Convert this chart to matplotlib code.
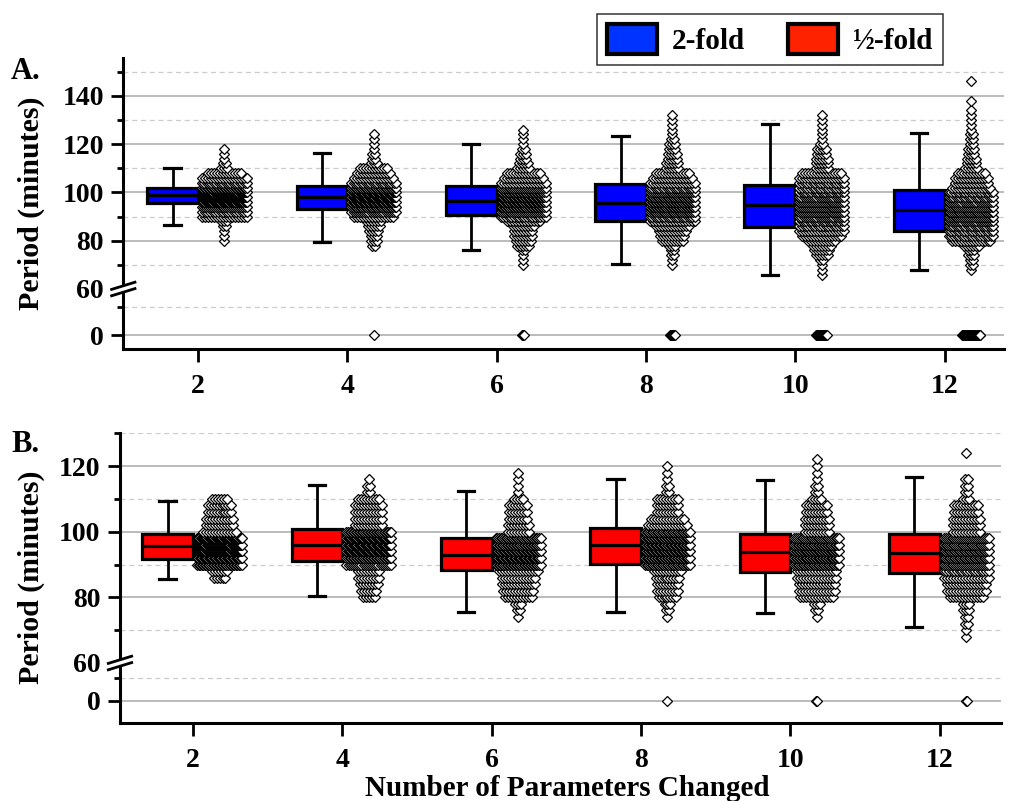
import matplotlib
matplotlib.use("Agg")
import matplotlib.pyplot as plt
import numpy as np
from matplotlib.lines import Line2D
from matplotlib.patches import Patch

plt.rcParams.update(
    {
        "font.family": ["Liberation Serif", "DejaVu Serif"],
        "font.weight": "bold",
        "font.size": 20,
        "axes.linewidth": 2.2,
        "xtick.major.width": 2.0,
        "ytick.major.width": 2.0,
        "ytick.minor.width": 2.0,
    }
)

PARAMS = [2, 4, 6, 8, 10, 12]
BIN = 2  # swarm bins are 2 minutes wide

# box statistics (minutes)
A_WLO = [86.5, 79.4, 76.0, 70.5, 66.0, 67.8]
A_Q1 = [95.6, 93.1, 90.6, 88.3, 85.6, 83.9]
A_MED = [98.9, 98.3, 96.6, 95.6, 94.6, 92.8]
A_Q3 = [101.9, 102.6, 102.8, 103.3, 103.0, 101.1]
A_WHI = [110.2, 116.4, 120.0, 123.3, 128.4, 124.6]

B_WLO = [85.6, 80.4, 75.4, 75.6, 75.2, 71.0]
B_Q1 = [91.7, 91.1, 88.2, 90.3, 87.8, 87.3]
B_MED = [95.6, 96.0, 93.0, 95.8, 93.7, 93.6]
B_Q3 = [99.2, 100.7, 98.1, 101.2, 99.2, 99.3]
B_WHI = [109.4, 114.1, 112.4, 116.1, 115.8, 116.7]

# individual runs: number of points per 2-minute bin, first bin at *_START
A_START = [80, 78, 70, 70, 66, 68]
A_COUNTS = [
    [1, 1, 1, 2, 3, 16, 18, 24, 40, 48, 44, 30, 20, 16, 12, 3, 2, 1, 1, 1],
    [2, 3, 3, 4, 5, 6, 14, 22, 28, 36, 40, 38, 28, 20, 14, 12, 10, 3, 2, 2, 1, 1, 1, 1],
    [1, 1, 1, 2, 5, 6, 7, 7, 8, 12, 18, 24, 30, 34, 34, 30, 24, 16, 14, 12,
     5, 4, 3, 3, 2, 1, 1, 1, 1],
    [1, 1, 2, 2, 3, 8, 9, 10, 12, 16, 20, 26, 30, 30, 28, 24, 20, 16, 14, 12,
     5, 5, 4, 4, 3, 3, 2, 1, 1, 1, 1, 1],
    [1, 1, 1, 2, 5, 6, 7, 10, 14, 16, 18, 20, 22, 24, 24, 24, 22, 20, 18, 18,
     16, 14, 5, 5, 5, 4, 4, 2, 1, 1, 1, 1, 1, 1],
    [1, 2, 2, 3, 3, 6, 14, 18, 18, 20, 22, 24, 26, 24, 22, 20, 18, 14, 12, 12,
     10, 5, 4, 4, 3, 3, 2, 2, 2, 1, 1, 1, 1, 1, 0, 1, 0, 0, 0, 1],
]
A_ZERO = [0, 1, 3, 7, 13, 22]

B_START = [86, 80, 74, 74, 74, 68]
B_COUNTS = [
    [5, 6, 30, 36, 44, 44, 40, 12, 10, 10, 9, 9, 6],
    [5, 6, 7, 8, 8, 22, 30, 38, 38, 38, 30, 10, 10, 10, 10, 8, 2, 2, 1],
    [1, 2, 3, 10, 11, 12, 12, 14, 30, 36, 34, 30, 28, 8, 8, 7, 7, 7, 4, 1, 1, 1, 1],
    [1, 2, 3, 7, 8, 8, 9, 10, 28, 32, 34, 34, 32, 28, 14, 12, 8, 8, 8, 2, 2, 1, 1, 1],
    [1, 2, 3, 12, 13, 13, 14, 14, 28, 32, 32, 30, 26, 9, 9, 9, 8, 8, 4, 2, 2, 1, 1, 1, 1],
    [1, 1, 2, 2, 3, 3, 12, 14, 14, 16, 18, 24, 28, 28, 26, 24, 10, 10, 10, 9, 9,
     3, 2, 2, 2, 0, 0, 0, 1],
]
B_ZERO = [0, 0, 0, 1, 2, 2]

BLUE = "#0000ff"
RED = "#ff0000"
LEG_BLUE = "#0033ff"
LEG_RED = "#ff2200"

FIG_W, FIG_H = 1009, 801
BOX_SHIFT = 0.34
BOX_W = 0.68
SWARM_SHIFT = 0.355
SWARM_STEP = 0.60 / 15
SWARM_CAP = 15
ZERO_STEP = 0.012


def swarm_points(center, start, counts, n_zero):
    xs, ys = [], []
    for i, n in enumerate(counts):
        if n == 0:
            continue
        span = SWARM_STEP * min(n - 1, SWARM_CAP)
        xs.extend(center + np.linspace(-span / 2, span / 2, n))
        ys.extend([start + BIN * i] * n)
    if n_zero:
        span = ZERO_STEP * (n_zero - 1)
        xs.extend(center + np.linspace(-span / 2, span / 2, n_zero))
        ys.extend([0] * n_zero)
    return np.array(xs), np.array(ys)


def px_box(left, top, right, bottom):
    return [left / FIG_W, 1 - bottom / FIG_H, (right - left) / FIG_W, (bottom - top) / FIG_H]


def style_axis(ax, major, minor):
    ax.set_axisbelow(True)
    ax.set_yticks(major)
    ax.set_yticks(minor, minor=True)
    ax.grid(True, which="major", axis="y", color="#a8a8a8", lw=1.1)
    ax.grid(True, which="minor", axis="y", color="#cccccc", lw=0.9, ls=(0, (4, 3)))
    ax.tick_params(axis="y", which="major", length=9, pad=5, direction="out")
    ax.tick_params(axis="y", which="minor", length=4.5, direction="out")
    for side in ("top", "right"):
        ax.spines[side].set_visible(False)


def draw_panel(fig, rect_up, rect_lo, ylim_up, ylim_lo, major_up, minor_up,
               xlim, stats, start, counts, zeros, color, label, label_xy):
    ax_up = fig.add_axes(px_box(*rect_up))
    ax_lo = fig.add_axes(px_box(*rect_lo))
    wlo, q1, med, q3, whi = stats

    for ax in (ax_up, ax_lo):
        bxp_stats = [
            dict(med=m, q1=a, q3=b, whislo=lo, whishi=hi, fliers=[])
            for m, a, b, lo, hi in zip(med, q1, q3, wlo, whi)
        ]
        ax.bxp(
            bxp_stats,
            positions=[p - BOX_SHIFT for p in PARAMS],
            widths=BOX_W,
            capwidths=0.22,
            patch_artist=True,
            showfliers=False,
            boxprops=dict(facecolor=color, edgecolor="black", lw=2.3),
            medianprops=dict(color="black", lw=2.3),
            whiskerprops=dict(color="black", lw=2.0),
            capprops=dict(color="black", lw=2.3),
            zorder=3,
        )
        for p, s, c, z in zip(PARAMS, start, counts, zeros):
            xs, ys = swarm_points(p + SWARM_SHIFT, s, c, z)
            ax.plot(xs, ys, ls="none", marker="D", ms=5.3, mfc="white",
                    mec="black", mew=0.9, zorder=4)
        ax.set_xlim(*xlim)

    ax_up.set_ylim(*ylim_up)
    style_axis(ax_up, major_up, minor_up)
    ax_up.yaxis.get_major_ticks()[0].gridline.set_visible(False)
    ax_up.yaxis.get_major_ticks()[0].tick1line.set_visible(False)
    ax_up.spines["bottom"].set_visible(False)
    ax_up.tick_params(axis="x", bottom=False, labelbottom=False)

    ax_lo.set_ylim(*ylim_lo)
    style_axis(ax_lo, [0], [10])
    ax_lo.spines["top"].set_visible(False)
    ax_lo.set_xticks(PARAMS)
    ax_lo.set_xticklabels([str(p) for p in PARAMS])
    ax_lo.tick_params(axis="x", length=9, pad=9, direction="out")

    # axis-break marks on the left spine
    left, top = rect_up[0], rect_up[3]
    for dy, col, lw in ((0, "white", 4.0), (-3.2, "black", 2.0), (3.2, "black", 2.0)):
        xs = np.array([left - 13, left + 13]) / FIG_W
        ys = 1 - (np.array([top + 4, top - 4]) + dy) / FIG_H
        fig.add_artist(Line2D(xs, ys, color=col, lw=lw, solid_capstyle="butt"))

    mid = (rect_up[1] + rect_lo[3]) / 2
    fig.text(31 / FIG_W, 1 - mid / FIG_H, "Period (minutes)", rotation=90,
             ha="center", va="center", fontsize=21.5, fontweight="bold")
    fig.text(label_xy[0] / FIG_W, 1 - label_xy[1] / FIG_H, label,
             ha="left", va="baseline", fontsize=22, fontweight="bold")


fig = plt.figure(figsize=(FIG_W / 100, FIG_H / 100), dpi=100)

draw_panel(
    fig,
    rect_up=(123.3, 58, 1004.3, 289),
    rect_lo=(123.3, 289, 1004.3, 349),
    ylim_up=(60, 155.65),
    ylim_lo=(-5, 16.43),
    major_up=[60, 80, 100, 120, 140],
    minor_up=[70, 90, 110, 130, 150],
    xlim=(1.0, 12.8),
    stats=(A_WLO, A_Q1, A_MED, A_Q3, A_WHI),
    start=A_START,
    counts=A_COUNTS,
    zeros=A_ZERO,
    color=BLUE,
    label="A.",
    label_xy=(11, 79),
)

draw_panel(
    fig,
    rect_up=(120, 432.7, 1001, 663),
    rect_lo=(120, 663, 1001, 722.7),
    ylim_up=(60, 130.15),
    ylim_lo=(-9.82, 16.83),
    major_up=[60, 80, 100, 120],
    minor_up=[70, 90, 110, 130],
    xlim=(1.022, 12.822),
    stats=(B_WLO, B_Q1, B_MED, B_Q3, B_WHI),
    start=B_START,
    counts=B_COUNTS,
    zeros=B_ZERO,
    color=RED,
    label="B.",
    label_xy=(11, 452),
)

fig.text(567 / FIG_W, 1 - 788 / FIG_H, "Number of Parameters Changed",
         ha="center", va="center", fontsize=21, fontweight="bold")

handles = [
    Patch(facecolor=LEG_BLUE, edgecolor="black", lw=3.0, label="2-fold"),
    Patch(facecolor=LEG_RED, edgecolor="black", lw=3.0, label="\u00bd-fold"),
]
leg = fig.legend(
    handles=handles,
    loc="upper left",
    bbox_to_anchor=(597 / FIG_W, 1 - 14 / FIG_H),
    ncol=2,
    fontsize=21,
    frameon=True,
    fancybox=False,
    edgecolor="black",
    borderpad=0.35,
    borderaxespad=0,
    handlelength=1.7,
    handleheight=1.2,
    handletextpad=0.5,
    columnspacing=1.5,
)
leg.get_frame().set_linewidth(1.1)

fig.savefig("out.png", dpi=100, facecolor="white")
